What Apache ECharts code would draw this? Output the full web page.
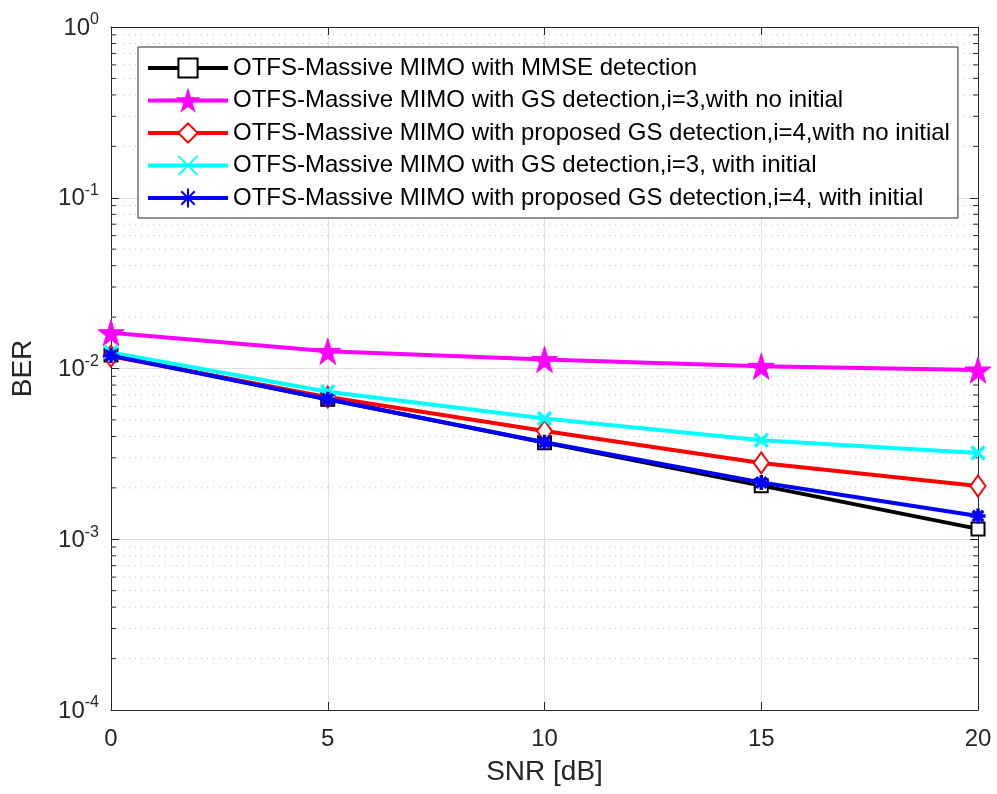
<!DOCTYPE html>
<html>
<head>
<meta charset="utf-8">
<script src="https://cdn.jsdelivr.net/npm/echarts@6/dist/echarts.min.js"></script>
<style>
  html, body { margin: 0; padding: 0; background: #fff; }
  #chart { width: 997px; height: 794px; }
</style>
</head>
<body>
<div id="chart"></div>
<script>
// SNR points (dB)
const snr = [0, 5, 10, 15, 20];

// BER curves
const berMMSE         = [0.0120, 0.0066, 0.00368, 0.00206, 0.00115];
const berGS3NoInit    = [0.0162, 0.0126, 0.0113, 0.0103, 0.0098];
const berGS4NoInit    = [0.0118, 0.0068, 0.0043, 0.0028, 0.00205];
const berGS3Init      = [0.0124, 0.0073, 0.0051, 0.0038, 0.0032];
const berGS4Init      = [0.0119, 0.0066, 0.0037, 0.00215, 0.00137];

const seriesNames = [
  'OTFS-Massive MIMO with MMSE detection',
  'OTFS-Massive MIMO with GS detection,i=3,with no initial',
  'OTFS-Massive MIMO with proposed GS detection,i=4,with no initial',
  'OTFS-Massive MIMO with GS detection,i=3, with initial',
  'OTFS-Massive MIMO with proposed GS detection,i=4, with initial'
];

// minor log-grid values (2..9 within each decade)
const minorValues = [];
for (let e = -4; e < 0; e++) {
  for (let m = 2; m <= 9; m++) minorValues.push(m * Math.pow(10, e));
}

const STAR = 'path://M50,0 L61,35 L98,35 L68,57 L79,91 L50,70 L21,91 L32,57 L2,35 L39,35 Z';
const CROSS = 'path://M0,0 L100,100 M100,0 L0,100';
const ASTER = 'path://M50,0 L50,100 M0,50 L100,50 M15,15 L85,85 M85,15 L15,85';

function pairs(vals) { return snr.map((x, i) => [x, vals[i]]); }

const axisColor = '#262626';
const fontFam = '"Liberation Sans", Arial, Helvetica, sans-serif';

const chart = echarts.init(document.getElementById('chart'), null, { renderer: 'canvas' });

function lineSeries(name, vals, color, symbol, size, extra) {
  return Object.assign({
    name: name,
    type: 'line',
    data: pairs(vals),
    symbol: symbol,
    symbolSize: size,
    showAllSymbol: true,
    lineStyle: { color: color, width: 4 },
    itemStyle: { color: color, borderColor: color, borderWidth: 2.5 },
    emphasis: { disabled: true },
    z: 5
  }, extra || {});
}

const option = {
  backgroundColor: '#fff',
  animation: false,
  textStyle: { fontFamily: fontFam },
  grid: { left: 111, top: 27, right: 19, bottom: 84, containLabel: false },
  legend: {
    orient: 'vertical',
    left: 138,
    top: 47,
    padding: [9, 8, 8, 8],
    itemGap: 8.5,
    itemWidth: 80,
    itemHeight: 24,
    backgroundColor: '#fff',
    borderColor: axisColor,
    borderWidth: 1,
    borderRadius: 0,
    selectedMode: false,
    data: seriesNames,
    lineStyle: { width: 4 },
    textStyle: { fontFamily: fontFam, fontSize: 24, color: '#000', lineHeight: 24 }
  },
  xAxis: [{
    type: 'value',
    min: 0, max: 20, interval: 5,
    name: 'SNR [dB]',
    nameLocation: 'middle',
    nameGap: 48,
    nameTextStyle: { fontSize: 28, color: axisColor, fontFamily: fontFam },
    axisLine: { show: true, onZero: false, lineStyle: { color: axisColor, width: 1 } },
    axisTick: { show: true, inside: true, length: 8, lineStyle: { color: axisColor } },
    axisLabel: { fontSize: 24, color: axisColor, margin: 17, fontFamily: fontFam },
    splitLine: { show: true, lineStyle: { color: '#dedede', width: 1 } }
  }, {
    type: 'value',
    position: 'top',
    min: 0, max: 20, interval: 5,
    axisLine: { show: true, onZero: false, lineStyle: { color: axisColor, width: 1 } },
    axisTick: { show: true, inside: true, length: 8, lineStyle: { color: axisColor } },
    axisLabel: { show: false },
    splitLine: { show: false }
  }],
  yAxis: [{
    type: 'log',
    logBase: 10,
    min: 1e-4, max: 1,
    name: 'BER',
    nameLocation: 'middle',
    nameGap: 74,
    nameRotate: 90,
    nameTextStyle: { fontSize: 28, color: axisColor, fontFamily: fontFam },
    axisLine: { show: true, onZero: false, lineStyle: { color: axisColor, width: 1 } },
    axisTick: { show: true, inside: true, length: 8, lineStyle: { color: axisColor } },
    axisLabel: {
      margin: 12,
      color: axisColor,
      fontFamily: fontFam,
      formatter: function (v) {
        const e = Math.round(Math.log10(v));
        return '{b|10}{s|' + e + '}';
      },
      rich: {
        b: { fontSize: 24, color: axisColor, fontFamily: fontFam, verticalAlign: 'bottom', lineHeight: 26 },
        s: { fontSize: 16, color: axisColor, fontFamily: fontFam, verticalAlign: 'bottom', padding: [0, 0, 12, 0], lineHeight: 16 }
      }
    },
    splitLine: { show: true, lineStyle: { color: '#dedede', width: 1 } }
  }, {
    type: 'log',
    logBase: 10,
    min: 1e-4, max: 1,
    position: 'right',
    axisLine: { show: true, onZero: false, lineStyle: { color: axisColor, width: 1 } },
    axisTick: { show: true, inside: true, length: 8, lineStyle: { color: axisColor } },
    axisLabel: { show: false },
    splitLine: { show: false }
  }],
  series: [
    {
      // dotted minor grid lines with small ticks on both sides of the box
      type: 'custom',
      silent: true,
      z: 1,
      xAxisIndex: 0,
      yAxisIndex: 0,
      data: minorValues.map(v => [0, v]),
      renderItem: function (params, api) {
        const v = api.value(1);
        const p0 = api.coord([0, v]);
        const p1 = api.coord([20, v]);
        return {
          type: 'group',
          children: [{
            type: 'line',
            shape: { x1: p0[0], y1: p0[1], x2: p1[0], y2: p1[1] },
            style: { stroke: '#bdbdbd', lineWidth: 1, lineDash: [1, 5] }
          }, {
            type: 'line',
            shape: { x1: p0[0], y1: p0[1], x2: p0[0] + 5, y2: p0[1] },
            style: { stroke: axisColor, lineWidth: 1 }
          }, {
            type: 'line',
            shape: { x1: p1[0], y1: p1[1], x2: p1[0] - 5, y2: p1[1] },
            style: { stroke: axisColor, lineWidth: 1 }
          }]
        };
      }
    },
    lineSeries(seriesNames[0], berMMSE, '#000000', 'emptyRect', 13, {
      itemStyle: { color: '#000000', borderColor: '#000000', borderWidth: 3 }, z: 5 }),
    lineSeries(seriesNames[1], berGS3NoInit, '#ff00ff', STAR, 26, {
      itemStyle: { color: '#ff00ff', borderColor: '#ff00ff', borderWidth: 1 }, z: 6 }),
    lineSeries(seriesNames[2], berGS4NoInit, '#ff0000', 'emptyDiamond', [15, 21], {
      itemStyle: { color: '#ff0000', borderColor: '#ff0000', borderWidth: 3 }, z: 7 }),
    lineSeries(seriesNames[3], berGS3Init, '#00ffff', CROSS, 13, {
      itemStyle: { color: '#00ffff', borderColor: '#00ffff', borderWidth: 3.5 }, z: 8 }),
    lineSeries(seriesNames[4], berGS4Init, '#0000ff', ASTER, 15, {
      itemStyle: { color: '#0000ff', borderColor: '#0000ff', borderWidth: 3.5 }, z: 9 })
  ]
};

chart.setOption(option);
</script>
</body>
</html>
